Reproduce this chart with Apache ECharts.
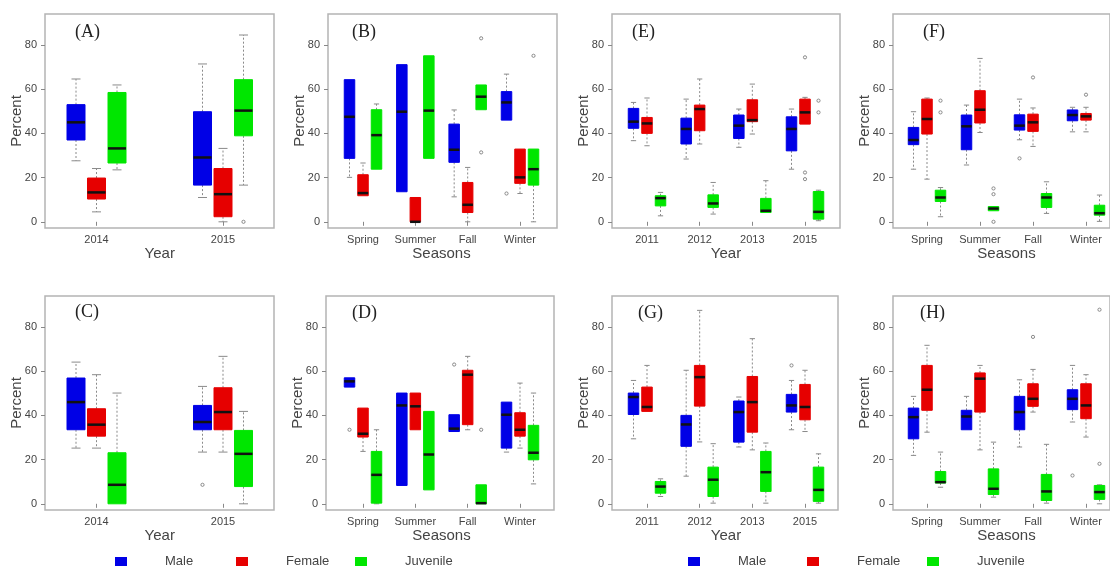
<!DOCTYPE html>
<html><head><meta charset="utf-8">
<script src="https://cdn.jsdelivr.net/npm/echarts@6/dist/echarts.min.js"></script>
<style>html,body{margin:0;padding:0;background:#fff}#c{width:1110px;height:567px}</style>
</head><body><div id="c"></div>
<script>
// ---------- data ----------
const yearsAC = ['2014', '2015'];
const yearsEG = ['2011', '2012', '2013', '2015'];
const seasons = ['Spring', 'Summer', 'Fall', 'Winter'];
const yTicks = [0, 20, 40, 60, 80];
const sexes = ['Male', 'Female', 'Juvenile'];

// each box: [min, Q1, median, Q3, max]; outliers: [categoryIndex, value]
const A_male = [[27.6, 37.0, 45.0, 53.0, 64.6], [11.0, 16.6, 29.1, 49.8, 71.4]];
const A_female = [[4.5, 10.3, 13.3, 19.8, 24.1], [0, 2.3, 12.5, 24.1, 33.2]];
const A_juv = [[23.5, 26.6, 33.2, 58.5, 61.9], [16.6, 38.9, 50.3, 64.3, 84.5]];
const A_juv_out = [[1, 0]];

const B_male = [[20.1, 28.7, 47.5, 64.3, 64.3], [13.6, 13.6, 49.8, 71.1, 71.1], [11.3, 26.9, 32.6, 44.2, 50.6], [46, 46, 54, 58.9, 66.8]];
const B_male_out = [[3, 12.8]];
const B_female = [[11.8, 11.8, 13.0, 21.3, 26.6], [0, 0, 0, 11.0, 11.0], [0, 4.2, 7.7, 17.8, 24.6], [12.8, 17.4, 20.1, 32.9, 32.9]];
const B_juv = [[23.8, 23.8, 39.2, 50.7, 53.3], [28.7, 28.7, 50.3, 75.1, 75.1], [50.7, 50.7, 56.6, 61.9, 61.9], [0, 16.6, 23.8, 32.9, 32.9]];
const B_juv_out = [[2, 83], [2, 31.4], [3, 75.1]];

const C_male = [[25.2, 33.5, 46.0, 56.9, 64.1], [23.4, 33.5, 37.0, 44.5, 53.1]];
const C_male_out = [[1, 8.6]];
const C_female = [[25.2, 30.6, 35.8, 43.0, 58.4], [23.4, 33.5, 41.5, 52.5, 66.7]];
const C_juv = [[0, 0, 8.6, 23.1, 50.1], [0, 7.8, 22.6, 33.2, 41.8]];

const D_male = [[52.8, 52.8, 55.4, 57, 57], [8.3, 8.3, 44.5, 50.1, 50.1], [32.7, 32.7, 34, 40.3, 40.3], [23.4, 25.2, 40.3, 46, 46]];
const D_male_out = [[0, 33.5], [2, 63]];
const D_female = [[23.7, 30.2, 31.7, 43.3, 43.3], [33.5, 33.5, 44.1, 50.1, 50.1], [33.5, 35.8, 58.4, 60.4, 66.7], [25.2, 30.6, 33.5, 41.2, 54.6]];
const D_juv = [[0, 0.3, 13.1, 23.7, 33.5], [6.3, 6.3, 22.3, 41.8, 41.8], [0, 0, 0.3, 8.6, 8.6], [9, 19.9, 23.1, 35.5, 50.1]];
const D_juv_out = [[2, 33.5]];

const E_male = [[36.7, 42.3, 45.3, 51.3, 54], [28.4, 35.2, 42, 46.9, 55.5], [33.7, 37.7, 43.5, 48.3, 51], [23.8, 32.1, 42, 47.5, 51]];
const E_female = [[34.4, 40, 44.5, 47.2, 56], [35.2, 41.2, 51, 52.8, 64.6], [39.7, 45.3, 46, 55.2, 62.3], [44.2, 44.2, 49.5, 55.5, 56.3]];
const E_female_out = [[3, 74.4], [3, 22.3], [3, 19.3]];
const E_juv = [[2.7, 7.2, 10.7, 11.8, 13.3], [3.5, 6.5, 8.3, 12.2, 17.8], [4.2, 4.2, 5, 10.6, 18.6], [0.5, 1.2, 4.5, 13.7, 14.3]];
const E_juv_out = [[3, 54.8], [3, 49.5]];

const F_male = [[23.8, 34.9, 37, 42.7, 49.8], [25.7, 32.6, 43.2, 48.3, 52.8], [37.1, 41.5, 43.5, 48.4, 55.5], [40.7, 45.7, 48.3, 50.6, 51.8]];
const F_male_out = [[2, 28.7]];
const F_female = [[19.3, 39.7, 46.5, 55.5, 56], [40.4, 44.7, 50.7, 59.3, 73.9], [34.1, 40.9, 45, 48.7, 51.5], [40.7, 46, 47.7, 49, 51.8]];
const F_female_out = [[2, 65.3], [3, 57.5]];
const F_juv = [[2.3, 9.2, 11, 14.3, 15.5], [5, 5, 6, 6.9, 6.9], [3.8, 6.5, 11, 12.8, 18.1], [0.2, 3, 3.9, 7.5, 12.1]];
const F_juv_out = [[0, 54.8], [0, 49.5], [1, 15.1], [1, 12.5], [1, 0]];

const G_male = [[29.4, 40.4, 48.3, 50.1, 55.8], [12.5, 26, 35.9, 40, 60.4], [25.7, 27.9, 41.5, 46.5, 48.3], [33.5, 41.5, 44.5, 49.5, 55.8]];
const G_male_out = [[3, 62.6]];
const G_female = [[41.8, 41.8, 43.8, 52.8, 62.6], [28, 44.2, 57.3, 62.6, 87.5], [24.4, 32.4, 46, 57.6, 74.7], [32.7, 38, 43.8, 54, 60.4]];
const G_juv = [[3.3, 4.8, 7.8, 10.1, 11.3], [0.3, 3.3, 10.9, 16.6, 27.2], [0.3, 5.6, 14.3, 23.7, 27.5], [0.3, 1.1, 6.3, 16.6, 22.6]];

const H_male = [[21.9, 29.4, 39.2, 43.3, 48.6], [33.5, 33.5, 39.5, 42.3, 48.6], [25.7, 33.5, 41.5, 48.6, 56.1], [37, 42.6, 47.5, 51.6, 62.6]];
const H_male_out = [[3, 12.8]];
const H_female = [[32.4, 42.3, 51.6, 62.6, 71.7], [24.4, 41.5, 56.6, 59.2, 62.6], [41.5, 44.1, 47.5, 54.3, 60.8], [30.2, 38.5, 44.5, 54.3, 58.4]];
const H_female_out = [[2, 75.5]];
const H_juv = [[7.5, 9.4, 9.8, 14.6, 23.4], [3, 4.2, 6.8, 15.8, 27.9], [0.3, 1.5, 5.6, 13.3, 26.9], [0, 2, 5.3, 8.3, 8.6]];
const H_juv_out = [[3, 18.1], [3, 87.8]];

// ---------- layout / style ----------
const COLORS = ['#0000e6', '#e60000', '#00e600'];
const YMIN = -2.8, YMAX = 94;
const SANS = 'Liberation Sans, Arial, sans-serif';
const SERIF = 'Liberation Serif, Times New Roman, serif';
const TEXTC = '#444';
const ROW_TOP = [14, 296], ROW_H = 214;

const panels = [
  { label: '(A)', row: 0, cats: yearsAC, xName: 'Year', fl: 45, fw: 229, cl: 96.5, cr: 223, bw: 18, step: 20.5, lab: [75, 23], boxes: [A_male, A_female, A_juv], outs: [[], [], A_juv_out] },
  { label: '(B)', row: 0, cats: seasons, xName: 'Seasons', fl: 328, fw: 229, cl: 363, cr: 520, bw: 10.5, step: 13.5, lab: [352, 23], boxes: [B_male, B_female, B_juv], outs: [B_male_out, [], B_juv_out] },
  { label: '(E)', row: 0, cats: yearsEG, xName: 'Year', fl: 612, fw: 228, cl: 647, cr: 805, bw: 10.5, step: 13.5, lab: [632, 23], boxes: [E_male, E_female, E_juv], outs: [[], E_female_out, E_juv_out] },
  { label: '(F)', row: 0, cats: seasons, xName: 'Seasons', fl: 893, fw: 227, cl: 927, cr: 1086, bw: 10.5, step: 13.5, lab: [923, 23], boxes: [F_male, F_female, F_juv], outs: [F_male_out, F_female_out, F_juv_out] },
  { label: '(C)', row: 1, cats: yearsAC, xName: 'Year', fl: 45, fw: 229, cl: 96.5, cr: 223, bw: 18, step: 20.5, lab: [75, 303], boxes: [C_male, C_female, C_juv], outs: [C_male_out, [], []] },
  { label: '(D)', row: 1, cats: seasons, xName: 'Seasons', fl: 326, fw: 228, cl: 363, cr: 520, bw: 10.5, step: 13.5, lab: [352, 304], boxes: [D_male, D_female, D_juv], outs: [D_male_out, [], D_juv_out] },
  { label: '(G)', row: 1, cats: yearsEG, xName: 'Year', fl: 612, fw: 226, cl: 647, cr: 805, bw: 10.5, step: 13.5, lab: [638, 304], boxes: [G_male, G_female, G_juv], outs: [G_male_out, [], []] },
  { label: '(H)', row: 1, cats: seasons, xName: 'Seasons', fl: 893, fw: 227, cl: 927, cr: 1086, bw: 10.5, step: 13.5, lab: [920, 304], boxes: [H_male, H_female, H_juv], outs: [H_male_out, H_female_out, H_juv_out] }
];

function boxRenderer(dx, w, color) {
  return function (params, api) {
    const k = api.value(0);
    const mn = api.value(1), q1 = api.value(2), md = api.value(3), q3 = api.value(4), mx = api.value(5);
    const x = api.coord([k, md])[0] + dx;
    const y = v => api.coord([k, v])[1];
    const cw = w * 0.5;
    const wStyle = { stroke: '#8a8a8a', lineWidth: 1, lineDash: [2, 2], fill: null };
    const cStyle = { stroke: '#8a8a8a', lineWidth: 1, fill: null };
    const ch = [];
    if (mx > q3) {
      ch.push({ type: 'line', shape: { x1: x, y1: y(q3), x2: x, y2: y(mx) }, style: wStyle });
      ch.push({ type: 'line', shape: { x1: x - cw / 2, y1: y(mx), x2: x + cw / 2, y2: y(mx) }, style: cStyle });
    }
    if (mn < q1) {
      ch.push({ type: 'line', shape: { x1: x, y1: y(q1), x2: x, y2: y(mn) }, style: wStyle });
      ch.push({ type: 'line', shape: { x1: x - cw / 2, y1: y(mn), x2: x + cw / 2, y2: y(mn) }, style: cStyle });
    }
    const top = y(q3), bot = y(q1);
    ch.push({ type: 'rect', shape: { x: x - w / 2, y: top, width: w, height: Math.max(bot - top, 0.5) }, style: { fill: color, stroke: color, lineWidth: 1 } });
    ch.push({ type: 'line', shape: { x1: x - w / 2, y1: y(md), x2: x + w / 2, y2: y(md) }, style: { stroke: '#111', lineWidth: 2.5 } });
    return { type: 'group', children: ch };
  };
}
function outRenderer(dx) {
  return function (params, api) {
    const c = api.coord([api.value(0), api.value(1)]);
    return { type: 'circle', shape: { cx: c[0] + dx, cy: c[1], r: 1.6 }, style: { fill: null, stroke: '#8a8a8a', lineWidth: 1 } };
  };
}

const grid = [], xAxis = [], yAxis = [], series = [], title = [];
panels.forEach((p, i) => {
  const top = ROW_TOP[p.row];
  const gF = grid.length;
  grid.push({ left: p.fl, top: top, width: p.fw, height: ROW_H, show: true, borderColor: '#b4b4b4', borderWidth: 1.5, backgroundColor: 'transparent' });
  xAxis.push({ gridIndex: gF, type: 'value', show: false });
  yAxis.push({
    gridIndex: gF, type: 'value', min: YMIN, max: YMAX,
    axisLine: { show: false }, splitLine: { show: false },
    axisTick: { show: true, length: 4, lineStyle: { color: '#888' }, customValues: yTicks },
    axisLabel: { customValues: yTicks, color: TEXTC, fontSize: 11, fontFamily: SANS, margin: 8 },
    name: 'Percent', nameLocation: 'middle', nameGap: 21, nameMoveOverlap: false,
    nameTextStyle: { color: TEXTC, fontSize: 15, fontFamily: SANS }
  });
  const gD = grid.length;
  grid.push({ left: p.cl, top: top, width: p.cr - p.cl, height: ROW_H });
  xAxis.push({
    gridIndex: gD, type: 'category', data: p.cats, boundaryGap: false,
    axisLine: { show: false }, splitLine: { show: false },
    axisTick: { show: true, length: 4, lineStyle: { color: '#888' } },
    axisLabel: { interval: 0, color: TEXTC, fontSize: 11, fontFamily: SANS, margin: 6 },
    name: p.xName, nameLocation: 'middle', nameGap: 18, nameMoveOverlap: false,
    nameTextStyle: { color: TEXTC, fontSize: 15, fontFamily: SANS }
  });
  yAxis.push({ gridIndex: gD, type: 'value', min: YMIN, max: YMAX, show: false });
  for (let s = 0; s < 3; s++) {
    const dx = (s - 1) * p.step;
    series.push({
      type: 'custom', name: sexes[s], xAxisIndex: gD, yAxisIndex: gD,
      itemStyle: { color: COLORS[s] }, clip: false, silent: true,
      encode: { x: 0, y: [1, 2, 3, 4, 5] },
      data: p.boxes[s].map((b, k) => [k].concat(b)),
      renderItem: boxRenderer(dx, p.bw, COLORS[s])
    });
    if (p.outs[s].length) {
      series.push({
        type: 'custom', name: sexes[s] + ' outliers', xAxisIndex: gD, yAxisIndex: gD,
        clip: false, silent: true, encode: { x: 0, y: 1 },
        data: p.outs[s], renderItem: outRenderer(dx)
      });
    }
  }
  title.push({ text: p.label, left: p.lab[0], top: p.lab[1], padding: 0,
    textStyle: { fontFamily: SERIF, fontSize: 18, fontWeight: 'normal', color: '#222' } });
});

// legends: one item each, two rows of three (left group and right group)
const legendLefts = [[115, 236, 355], [688, 807, 927]];
const legend = [];
legendLefts.forEach(row => row.forEach((lx, s) => {
  legend.push({
    data: [sexes[s]], left: lx, top: 555, icon: 'rect', itemWidth: 12, itemHeight: 9,
    selectedMode: false, padding: 0,
    textStyle: { color: TEXTC, fontSize: 13, fontFamily: SANS, padding: [0, 0, 0, 33] }
  });
}));

const chart = echarts.init(document.getElementById('c'), null, { renderer: 'canvas' });
chart.setOption({ animation: false, backgroundColor: '#fff', title, grid, xAxis, yAxis, series, legend });
</script></body></html>
